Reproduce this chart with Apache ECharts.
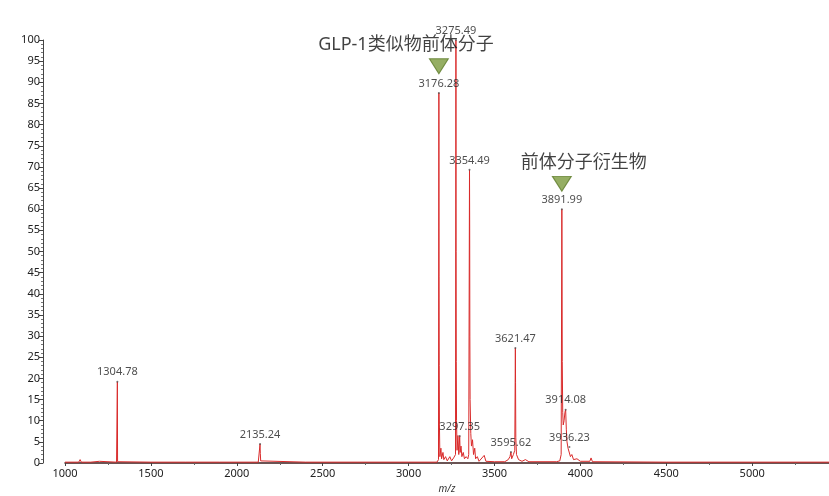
<!DOCTYPE html>
<html>
<head>
<meta charset="utf-8">
<script src="https://cdn.jsdelivr.net/npm/echarts@6/dist/echarts.min.js"></script>
<style>html,body{margin:0;padding:0;background:#fff;}#c{width:829px;height:496px;}</style>
</head>
<body>
<div id="c"></div>
<script>
// Spectrum profile (m/z, relative intensity %)
const spectrumMz = [1000,1080,1088,1095,1150,1200,1210,1300,1303,1304.78,1306,1310,1500,1700,1900,2125,2133,2135.24,2137,2139,2145,2400,2700,3000,3165,3172,3174,3176.28,3177.3,3178.3,3179.5,3182,3188,3192,3200,3205,3215,3225,3240,3250,3262,3270,3273,3275.49,3276.5,3277.5,3279,3282,3287,3292,3297.35,3300,3305,3310,3318,3325,3335,3345,3350,3354.49,3355.5,3356.5,3358,3362,3366,3372,3378,3385,3390,3400,3410,3440,3450,3500,3560,3580,3590,3595.62,3600,3610,3618,3621.47,3622.5,3624,3628,3640,3650,3660,3680,3700,3860,3880,3888,3891.99,3893,3894.5,3897,3900,3905,3910,3914.08,3918,3922,3928,3936.23,3942,3950,3960,3980,4000,4055,4062,4070,4500,5000,5447];
const spectrumIntensity = [0.2,0.2,0.8,0.2,0.2,0.4,0.2,0.2,0.3,19.2,0.3,0.2,0.2,0.2,0.2,0.2,0.5,4.5,2.2,0.5,0.2,0.2,0.2,0.2,0.2,0.5,0.8,87.5,44,23,9,1.5,3.5,1,2.5,0.8,1.5,0.5,1.5,0.5,1.2,0.8,2,100,50,24,10,3,6.5,2,6.4,2.5,4,1.5,2.5,1,1.5,1,2,69.3,56,30,15,7,4,5.5,2,3.5,1,1.5,0.4,1.8,0.4,0.3,0.3,0.8,1.5,2.6,1,2,3,27.2,19,6,2,0.8,1,0.4,0.8,0.3,0.3,0.5,2,60,48,24,12,9,10,12,12.6,8,5,3.5,3.8,1.5,2,0.8,1,0.4,0.4,1.2,0.3,0.2,0.2,0.2];

// Labelled peaks
const peakMz = [1304.78,2135.24,3176.28,3275.49,3297.35,3354.49,3595.62,3621.47,3891.99,3914.08,3936.23];
const peakIntensity = [19.2,4.5,87.5,100,6.4,69.3,2.6,27.2,60,12.6,3.8];

// Annotations (marker above peak)
const annotationText = ['GLP-1类似物前体分子','前体分子衍生物'];
const annotationMz = [3176.28,3891.99];
const annotationLevel = [93.8,66];

// Axis ticks
const xTickValues = [1000,1500,2000,2500,3000,3500,4000,4500,5000];
const yTickStep = 5;

const chart = echarts.init(document.getElementById('c'), null, {renderer:'canvas'});
const font = '"Noto Sans", "Noto Sans CJK SC", sans-serif';
const annOffsets = [[-33,0],[22,0]];
chart.setOption({
  animation:false,
  backgroundColor:'#ffffff',
  grid:{left:65,right:0,top:40,bottom:33,containLabel:false,outerBoundsMode:'none'},
  xAxis:{
    type:'value',min:1000,max:5447,interval:500,
    name:'m/z',nameLocation:'middle',nameGap:19,
    nameTextStyle:{fontStyle:'italic',fontSize:10,color:'#333',fontFamily:font},
    axisLine:{onZero:false,lineStyle:{color:'#3a1c1c',width:1.5}},
    axisTick:{show:true,length:3,inside:false,lineStyle:{color:'#444'}},
    minorTick:{show:true,splitNumber:2,length:2,lineStyle:{color:'#666'}},
    axisLabel:{fontSize:11,color:'#222',fontFamily:font,margin:5,showMaxLabel:false,
      formatter:v=>xTickValues.indexOf(v)>=0?String(v):''},
    splitLine:{show:false}
  },
  yAxis:{
    type:'value',min:0,max:100,interval:yTickStep,offset:22,
    axisLine:{show:true,lineStyle:{color:'#444',width:1}},
    axisTick:{show:true,length:4,lineStyle:{color:'#444'}},
    minorTick:{show:true,splitNumber:5,length:2,lineStyle:{color:'#777'}},
    axisLabel:{fontSize:11,color:'#222',fontFamily:font,margin:3},
    splitLine:{show:false}
  },
  series:[
    {
      type:'line',
      data:spectrumMz.map((m,i)=>[m,spectrumIntensity[i]]),
      showSymbol:false,symbol:'none',
      lineStyle:{color:'#d92b2b',width:1},
      z:2
    },
    {
      type:'scatter',
      data:peakMz.map((m,i)=>[m,peakIntensity[i]]),
      symbolSize:2,
      itemStyle:{color:'#555'},
      label:{show:true,position:'top',distance:3,fontSize:11,color:'#222',fontFamily:font,
        formatter:p=>p.value[0].toFixed(2)},
      z:3
    },
    {
      type:'scatter',
      data:annotationMz.map((m,i)=>({value:[m,annotationLevel[i]],
        label:{offset:annOffsets[i]}})),
      symbol:'triangle',symbolRotate:180,symbolSize:[19,15],
      itemStyle:{color:'#7a9a3c',borderColor:'#5d7a28',borderWidth:1},
      label:{show:true,position:'top',distance:4,fontSize:18,color:'#111',fontFamily:font,
        formatter:p=>annotationText[p.dataIndex]},
      z:4
    }
  ]
});
</script>
</body>
</html>
